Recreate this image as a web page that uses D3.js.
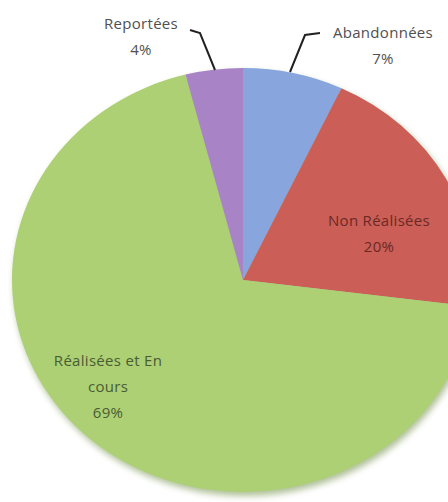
<!DOCTYPE html>
<html>
<head>
<meta charset="utf-8">
<script src="https://cdn.jsdelivr.net/npm/d3@7"></script>
<style>
  body { margin:0; background:#fff; overflow:hidden; }
  text { font-family: "Open Sans", Lato, sans-serif; }
</style>
</head>
<body>
<div id="chart"></div>
<script>
var categories = ["Abandonnées", "Non Réalisées", "Réalisées et En cours", "Reportées"];
var values = [7, 20, 69, 4];
var colors = ["#88a5de", "#cb5e56", "#acd073", "#a884c6"];

var w = 448, h = 502;
var cx = 243, cy = 280, rx = 231, ry = 212;

var svg = d3.select("#chart").append("svg")
    .attr("width", w)
    .attr("height", h);

var defs = svg.append("defs");
var f = defs.append("filter").attr("id", "shadow")
    .attr("x", "-20%").attr("y", "-20%").attr("width", "140%").attr("height", "140%");
f.append("feGaussianBlur").attr("stdDeviation", 3);

var pie = d3.pie().sort(null).value(function(d){ return d; });
var arc = d3.arc().innerRadius(0).outerRadius(1);
var arcs = pie(values);

// soft shadow under the disc
svg.append("ellipse")
    .attr("cx", cx + 2).attr("cy", cy + 4)
    .attr("rx", rx).attr("ry", ry)
    .style("fill", "#6f8f45")
    .style("opacity", 0.55)
    .attr("filter", "url(#shadow)");

var g = svg.append("g")
    .attr("transform", "translate(" + cx + "," + cy + ") scale(" + rx + "," + ry + ")");

g.selectAll("path")
    .data(arcs)
    .enter().append("path")
    .attr("d", arc)
    .style("fill", function(d, i){ return colors[i]; });

// labels
var labels = [
  { lines: ["Abandonnées", "7%"], x: 383, y: 38 },
  { lines: ["Non Réalisées", "20%"], x: 379, y: 226 },
  { lines: ["Réalisées et En", "cours", "69%"], x: 108, y: 366 },
  { lines: ["Reportées", "4%"], x: 141, y: 29 }
];
var textColors = ["#505050", "#6a2925", "#4a5c33", "#505050"];

labels.forEach(function(l, i){
  var t = svg.append("text")
      .attr("text-anchor", "middle")
      .style("font-size", "15px")
      .style("letter-spacing", "0.3px")
      .style("fill", textColors[i]);
  l.lines.forEach(function(s, k){
    var line = s;
    if (k == l.lines.length - 1) line = Math.round(values[i]) + "%";
    t.append("tspan")
      .attr("x", l.x)
      .attr("y", l.y + k * 26)
      .text(line);
  });
});

// leader lines
var leader = d3.line();
svg.append("path")
    .attr("d", leader([[320, 33], [305, 35], [290, 72]]))
    .style("fill", "none").style("stroke", "#222").style("stroke-width", 2);
svg.append("path")
    .attr("d", leader([[190, 30], [200, 33], [215, 70]]))
    .style("fill", "none").style("stroke", "#222").style("stroke-width", 2);
</script>
</body>
</html>
